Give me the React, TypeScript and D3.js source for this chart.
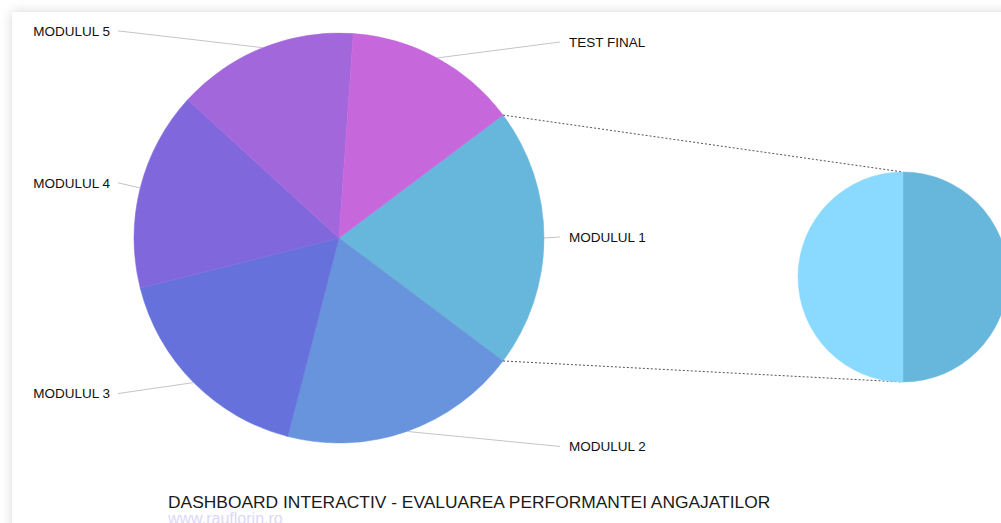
import * as d3 from "d3";
import { useEffect, useRef } from "react";

// date
const categories = ["MODULUL 1", "MODULUL 2", "MODULUL 3", "MODULUL 4", "MODULUL 5", "TEST FINAL"];
const values = [30, 27.5, 25, 23, 21, 20];
const colors = ["#67b7dc", "#6794dc", "#6771dc", "#8067dc", "#a367dc", "#c767dc"];
const subCategories = ["Partea 1", "Partea 2"];
const subValues = [15, 15];
const subColors = ["#67b7dc", "#8ad9ff"];

const W = 1001;
const H = 523;

const App = () => {
  const ref = useRef<SVGSVGElement>(null);

  useEffect(() => {
    const svg = d3.select(ref.current);
    svg.selectAll("*").remove();

    const defs = svg.append("defs");
    const f = defs.append("filter").attr("id", "shadow")
      .attr("x", "-10%").attr("y", "-10%").attr("width", "120%").attr("height", "120%");
    f.append("feDropShadow").attr("dx", 0).attr("dy", 0).attr("stdDeviation", 6)
      .attr("flood-color", "#000").attr("flood-opacity", 0.16);

    // card
    svg.append("rect").attr("x", 12).attr("y", 12).attr("width", W + 40).attr("height", H + 40)
      .attr("fill", "#fff").attr("filter", "url(#shadow)");

    const cx = 339, cy = 238, r = 205;
    const total = d3.sum(values);
    const span0 = (values[0] / total) * Math.PI * 2;
    const start = Math.PI / 2 - span0 / 2;

    const pie = d3.pie<number>().sort(null).startAngle(start).endAngle(start + Math.PI * 2);
    const arcs = pie(values);
    const arc = d3.arc<d3.PieArcDatum<number>>().innerRadius(0).outerRadius(r);

    const g = svg.append("g").attr("transform", `translate(${cx},${cy})`);
    g.selectAll("path.slice").data(arcs).enter().append("path")
      .attr("class", "slice")
      .attr("d", arc)
      .attr("fill", (_, i) => colors[i])
      .attr("stroke", (_, i) => colors[i])
      .attr("stroke-width", 0.5);

    // etichete cu linii
    const labelR = 222;
    const colOff = r + 16;
    arcs.forEach((a, i) => {
      const mid = (a.startAngle + a.endAngle) / 2;
      const px = Math.sin(mid) * r;
      const py = -Math.cos(mid) * r;
      const right = px >= 0;
      const ly = -Math.cos(mid) * labelR - 1;
      const lx = right ? colOff : -colOff;
      g.append("line")
        .attr("x1", px).attr("y1", py).attr("x2", lx).attr("y2", ly)
        .attr("stroke", "#c4c4c4").attr("stroke-width", 1);
      g.append("text")
        .attr("x", right ? lx + 9 : lx - 8)
        .attr("y", ly)
        .attr("dy", "0.35em")
        .attr("text-anchor", right ? "start" : "end")
        .attr("font-family", "Liberation Sans, Arial, sans-serif")
        .attr("font-size", 13.5)
        .attr("fill", "#111")
        .text(categories[i]);
    });

    // pie mic
    const sx = 903, sy = 277, sr = 105;
    const subArcs = d3.pie<number>().sort(null)(subValues);
    const subArc = d3.arc<d3.PieArcDatum<number>>().innerRadius(0).outerRadius(sr);

    // linii punctate
    const a0 = arcs[0];
    const p1 = [cx + Math.sin(a0.startAngle) * r, cy - Math.cos(a0.startAngle) * r];
    const p2 = [cx + Math.sin(a0.endAngle) * r, cy - Math.cos(a0.endAngle) * r];
    svg.append("line").attr("x1", p1[0]).attr("y1", p1[1]).attr("x2", sx).attr("y2", sy - sr)
      .attr("stroke", "#555").attr("stroke-width", 1).attr("stroke-dasharray", "2,2");
    svg.append("line").attr("x1", p2[0]).attr("y1", p2[1]).attr("x2", sx).attr("y2", sy + sr)
      .attr("stroke", "#555").attr("stroke-width", 1).attr("stroke-dasharray", "2,2");

    const sg = svg.append("g").attr("transform", `translate(${sx},${sy})`);
    sg.selectAll("path").data(subArcs).enter().append("path")
      .attr("d", subArc)
      .attr("fill", (_, i) => subColors[i])
      .attr("stroke", (_, i) => subColors[i])
      .attr("stroke-width", 0.5)
      .append("title").text((_, i) => subCategories[i]);

    // titlu
    svg.append("text").attr("x", 168).attr("y", 508)
      .attr("font-family", "Liberation Sans, Arial, sans-serif")
      .attr("font-size", 17.4).attr("fill", "#1a1a1a")
      .text("DASHBOARD INTERACTIV - EVALUAREA PERFORMANTEI ANGAJATILOR");
    svg.append("text").attr("x", 168).attr("y", 524)
      .attr("font-family", "Liberation Sans, Arial, sans-serif")
      .attr("font-size", 16).attr("fill", "#dcd7f7")
      .text("www.rauflorin.ro");
  }, []);

  return (
    <div style={{ position: "fixed", left: 0, top: 0, width: W, height: H, overflow: "hidden", background: "#fff" }}>
      <svg ref={ref} width={W} height={H} style={{ display: "block" }}></svg>
    </div>
  );
};

export default App;
